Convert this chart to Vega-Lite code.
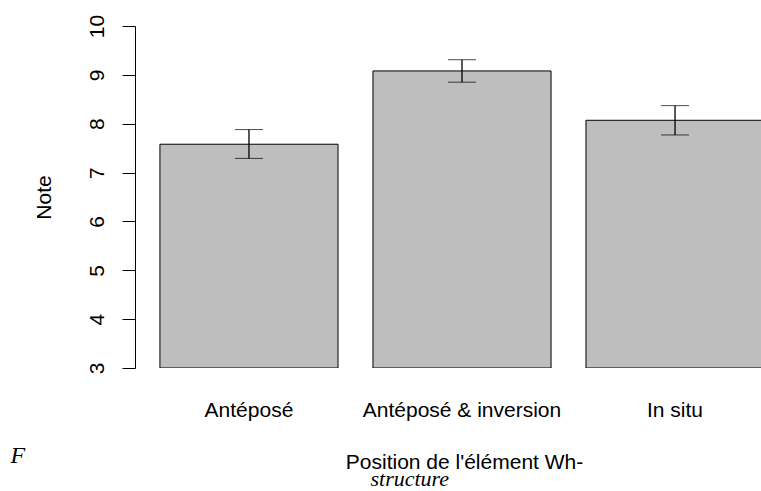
{
  "$schema": "https://vega.github.io/schema/vega-lite/v6.json",
  "autosize": "none",
  "width": 626,
  "height": 342,
  "padding": {"left": 135, "top": 26, "right": 0, "bottom": 123},
  "background": "white",
  "config": {
    "view": {"stroke": null},
    "font": "Liberation Sans",
    "axis": {
      "labelFont": "Liberation Sans",
      "titleFont": "Liberation Sans",
      "labelColor": "black",
      "titleColor": "black",
      "labelFontSize": 21,
      "titleFontSize": 21,
      "titleFontWeight": "normal",
      "labelLimit": 0,
      "titleLimit": 0,
      "grid": false
    }
  },
  "data": {
    "values": [
      {"pos": "Antéposé", "note": 7.58, "lo": 7.29, "hi": 7.88},
      {"pos": "Antéposé & inversion", "note": 9.08, "lo": 8.85, "hi": 9.31},
      {"pos": "In situ", "note": 8.07, "lo": 7.77, "hi": 8.37}
    ]
  },
  "layer": [
    {
      "mark": {"type": "bar", "fill": "#bebebe", "stroke": "black", "strokeWidth": 1, "clip": true},
      "encoding": {
        "x": {
          "field": "pos", "type": "nominal", "sort": null,
          "scale": {"paddingInner": 0.164, "paddingOuter": 0.117, "range": [0, 654]},
          "axis": {
            "orient": "bottom", "domain": false, "ticks": false, "tickSize": 0,
            "labelAngle": 0, "labelPadding": 48, "labelBaseline": "alphabetic",
            "title": "Position de l'élément Wh-", "titleBaseline": "alphabetic",
            "titleY": 100, "titleX": 329, "titleAlign": "center"
          }
        },
        "y": {
          "field": "note", "type": "quantitative",
          "scale": {"domain": [3, 10], "nice": false, "zero": false},
          "axis": {
            "values": [3, 4, 5, 6, 7, 8, 9, 10],
            "domainColor": "black", "tickColor": "black", "tickSize": 13,
            "labelAngle": 270, "labelAlign": "center", "labelBaseline": "alphabetic", "labelPadding": 19,
            "title": "Note", "titleAngle": 270, "titleX": -85, "titleY": 171,
            "titleAlign": "center", "titleBaseline": "alphabetic"
          }
        },
        "y2": {"datum": 3}
      }
    },
    {
      "mark": {"type": "errorbar", "ticks": {"size": 28, "color": "black"}, "rule": {"color": "black", "strokeWidth": 1.3}},
      "encoding": {
        "x": {
          "field": "pos", "type": "nominal", "sort": null,
          "axis": {
            "orient": "top", "labels": false, "ticks": false, "domain": false,
            "title": "F", "titleFont": "Liberation Serif", "titleFontStyle": "italic", "titleFontSize": 24,
            "titleX": -125, "titleY": 436, "titleAlign": "left", "titleBaseline": "alphabetic"
          }
        },
        "y": {
          "field": "lo", "type": "quantitative",
          "axis": {
            "orient": "right", "labels": false, "ticks": false, "domain": false,
            "title": "structure", "titleAngle": 0, "titleFont": "Liberation Serif", "titleFontStyle": "italic", "titleFontSize": 22,
            "titleX": -391, "titleY": 459, "titleAlign": "left", "titleBaseline": "alphabetic"
          }
        },
        "y2": {"field": "hi"}
      }
    }
  ],
  "resolve": {"axis": {"x": "independent", "y": "independent"}}
}
